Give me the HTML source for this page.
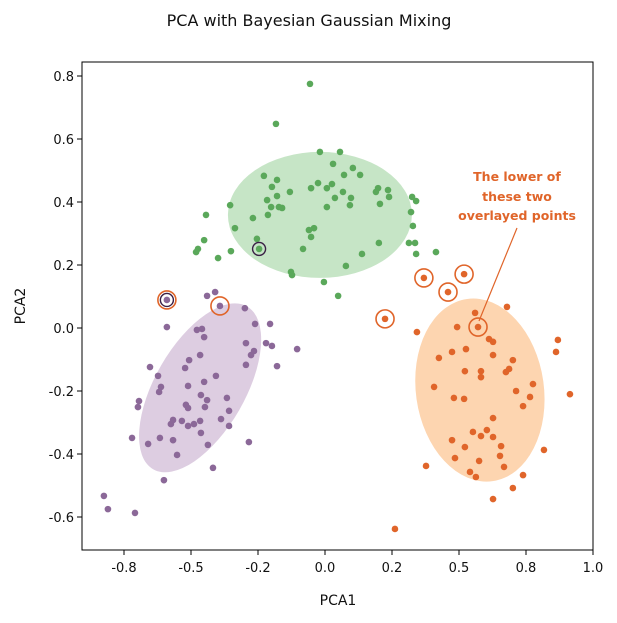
<!DOCTYPE html>
<html><head><meta charset="utf-8"><style>
body{margin:0;background:#fff;}
svg text{font-family:"DejaVu Sans","Liberation Sans",sans-serif;}
</style></head><body>
<svg id="chart" width="617" height="618" xmlns="http://www.w3.org/2000/svg">
<text x="309" y="26" text-anchor="middle" font-size="16" fill="#111">PCA with Bayesian Gaussian Mixing</text>
<g id="ellipses"></g><g id="points"></g><g id="rings"></g>
<rect x="82" y="62" width="511" height="488" fill="none" stroke="#000" stroke-width="1"/>
<g id="axes"></g>
<text x="338" y="605" text-anchor="middle" font-size="14" fill="#111">PCA1</text>
<text x="25" y="306" text-anchor="middle" font-size="14" fill="#111" transform="rotate(-90 25 306)">PCA2</text>
<g font-size="12.5" fill="#e0652a" text-anchor="middle" font-weight="bold">
<text x="517" y="181">The lower of</text><text x="517" y="201">these two</text><text x="517" y="220">overlayed points</text>
</g>
<line x1="517" y1="228" x2="479" y2="321" stroke="#e0652a" stroke-width="1.2"/>
</svg>
<script>
const xTicks=[-0.75,-0.5,-0.25,0,0.25,0.5,0.75,1.0];
const xTickLabels=["-0.8","-0.5","-0.2","0.0","0.2","0.5","0.8","1.0"];
const yTicks=[-0.6,-0.4,-0.2,0,0.2,0.4,0.6,0.8];
const yTickLabels=["-0.6","-0.4","-0.2","0.0","0.2","0.4","0.6","0.8"];
const greenPts=[[-0.056,0.775],[-0.183,0.648],[-0.019,0.559],[0.056,0.559],[0.030,0.521],[0.104,0.508],[0.071,0.486],[0.131,0.486],[-0.228,0.483],[-0.179,0.470],[-0.198,0.448],[-0.131,0.432],[-0.052,0.444],[-0.026,0.460],[0.007,0.444],[0.026,0.457],[0.067,0.432],[0.037,0.413],[0.097,0.413],[0.093,0.390],[0.007,0.384],[-0.179,0.419],[-0.216,0.406],[-0.201,0.384],[-0.172,0.384],[-0.160,0.381],[-0.213,0.359],[-0.269,0.349],[-0.354,0.390],[-0.444,0.359],[-0.336,0.317],[-0.451,0.279],[-0.474,0.251],[-0.481,0.241],[-0.399,0.222],[-0.351,0.244],[-0.254,0.283],[-0.246,0.251],[-0.082,0.251],[-0.060,0.311],[-0.041,0.317],[-0.052,0.289],[-0.127,0.178],[-0.123,0.168],[-0.004,0.146],[0.078,0.197],[0.138,0.235],[0.201,0.270],[0.190,0.432],[0.198,0.444],[0.235,0.438],[0.239,0.416],[0.205,0.394],[0.325,0.416],[0.340,0.403],[0.321,0.368],[0.328,0.324],[0.313,0.270],[0.336,0.270],[0.340,0.235],[0.414,0.241],[0.049,0.102]];
const purplePts=[[-0.590,0.089],[-0.440,0.102],[-0.410,0.114],[-0.392,0.070],[-0.299,0.063],[-0.261,0.013],[-0.205,0.013],[-0.590,0.003],[-0.478,-0.006],[-0.459,-0.003],[-0.451,-0.029],[-0.295,-0.048],[-0.220,-0.048],[-0.198,-0.057],[-0.265,-0.073],[-0.276,-0.086],[-0.104,-0.067],[-0.466,-0.086],[-0.507,-0.102],[-0.522,-0.127],[-0.295,-0.117],[-0.179,-0.121],[-0.653,-0.124],[-0.623,-0.152],[-0.407,-0.152],[-0.451,-0.171],[-0.511,-0.184],[-0.612,-0.187],[-0.619,-0.203],[-0.463,-0.213],[-0.440,-0.229],[-0.366,-0.222],[-0.694,-0.232],[-0.698,-0.251],[-0.519,-0.244],[-0.511,-0.254],[-0.448,-0.251],[-0.358,-0.263],[-0.388,-0.289],[-0.567,-0.292],[-0.575,-0.305],[-0.534,-0.295],[-0.511,-0.311],[-0.489,-0.305],[-0.466,-0.295],[-0.358,-0.311],[-0.463,-0.333],[-0.720,-0.349],[-0.660,-0.368],[-0.616,-0.349],[-0.567,-0.356],[-0.437,-0.371],[-0.284,-0.362],[-0.552,-0.403],[-0.418,-0.444],[-0.601,-0.483],[-0.825,-0.533],[-0.810,-0.575],[-0.709,-0.587]];
const orangePts=[[0.369,0.159],[0.519,0.171],[0.459,0.114],[0.224,0.029],[0.571,0.003],[0.679,0.067],[0.560,0.048],[0.493,0.003],[0.343,-0.013],[0.869,-0.038],[0.862,-0.076],[0.612,-0.035],[0.627,-0.044],[0.526,-0.067],[0.474,-0.076],[0.425,-0.095],[0.627,-0.086],[0.701,-0.102],[0.522,-0.137],[0.582,-0.137],[0.582,-0.156],[0.687,-0.130],[0.675,-0.140],[0.407,-0.187],[0.776,-0.178],[0.713,-0.200],[0.765,-0.219],[0.914,-0.210],[0.481,-0.222],[0.519,-0.225],[0.739,-0.248],[0.627,-0.286],[0.552,-0.330],[0.604,-0.324],[0.582,-0.343],[0.627,-0.346],[0.474,-0.356],[0.657,-0.375],[0.522,-0.378],[0.653,-0.406],[0.485,-0.413],[0.575,-0.422],[0.668,-0.441],[0.377,-0.438],[0.541,-0.457],[0.563,-0.473],[0.739,-0.467],[0.817,-0.387],[0.701,-0.508],[0.627,-0.543],[0.261,-0.638]];
const orangeRinged=[[0.369,0.159],[0.519,0.171],[0.459,0.114],[0.224,0.029],[0.571,0.003],[-0.590,0.089],[-0.392,0.070]];
const purpleRinged=[[-0.246,0.251],[-0.590,0.089]];
const ellipseCenters=[[-0.019,0.359],[-0.466,-0.190],[0.578,-0.197]];
const ellipseAngles=[0,-60,-8];

const NS="http://www.w3.org/2000/svg";
const X=v=>325+v*268, Y=v=>328-v*315;
function mk(tag,attrs,parent){const e=document.createElementNS(NS,tag);for(const k in attrs)e.setAttribute(k,attrs[k]);parent.appendChild(e);return e;}
const axes=document.getElementById('axes');
xTicks.forEach((t,i)=>{const g=mk('g',{},axes);


mk('line',{x1:X(t),x2:X(t),y1:550,y2:555,stroke:'#000'},g);
const tx=mk('text',{x:X(t),y:572,'text-anchor':'middle','font-size':'13',fill:'#111'},g);tx.textContent=xTickLabels[i];});
yTicks.forEach((t,i)=>{const g=mk('g',{},axes);


mk('line',{x1:77,x2:82,y1:Y(t),y2:Y(t),stroke:'#000'},g);
const tx=mk('text',{x:74,y:Y(t)+5,'text-anchor':'end','font-size':'13',fill:'#111'},g);tx.textContent=yTickLabels[i];});
const eg=document.getElementById('ellipses');
const eSize=[[92,63],[94,45],[64,92]],eFill=['#c6e5c6','#ddcde1','#fdd5b0'],eName=['green-cluster-ellipse','purple-cluster-ellipse','orange-cluster-ellipse'];
ellipseCenters.forEach((c,i)=>{const cx=X(c[0]),cy=Y(c[1]);
const e=mk('ellipse',{cx:cx,cy:cy,rx:eSize[i][0],ry:eSize[i][1],fill:eFill[i],transform:`rotate(${ellipseAngles[i]} ${cx} ${cy})`},eg);

});
const pg=document.getElementById('points');
[[greenPts,'#5aa85a','green-point'],[purplePts,'#8b6898','purple-point'],[orangePts,'#e0652a','orange-point']].forEach(([arr,col,nm])=>{
arr.forEach(p=>{const c=mk('circle',{cx:X(p[0]),cy:Y(p[1]),r:3.3,fill:col},pg);

});});
const rg=document.getElementById('rings');
orangeRinged.forEach(p=>{const c=mk('circle',{cx:X(p[0]),cy:Y(p[1]),r:9,fill:'none',stroke:'#e0652a','stroke-width':1.6},rg);

});
purpleRinged.forEach(p=>{const c=mk('circle',{cx:X(p[0]),cy:Y(p[1]),r:6.5,fill:'none',stroke:'#3a1f45','stroke-width':1.4},rg);

});
</script>
</body></html>
